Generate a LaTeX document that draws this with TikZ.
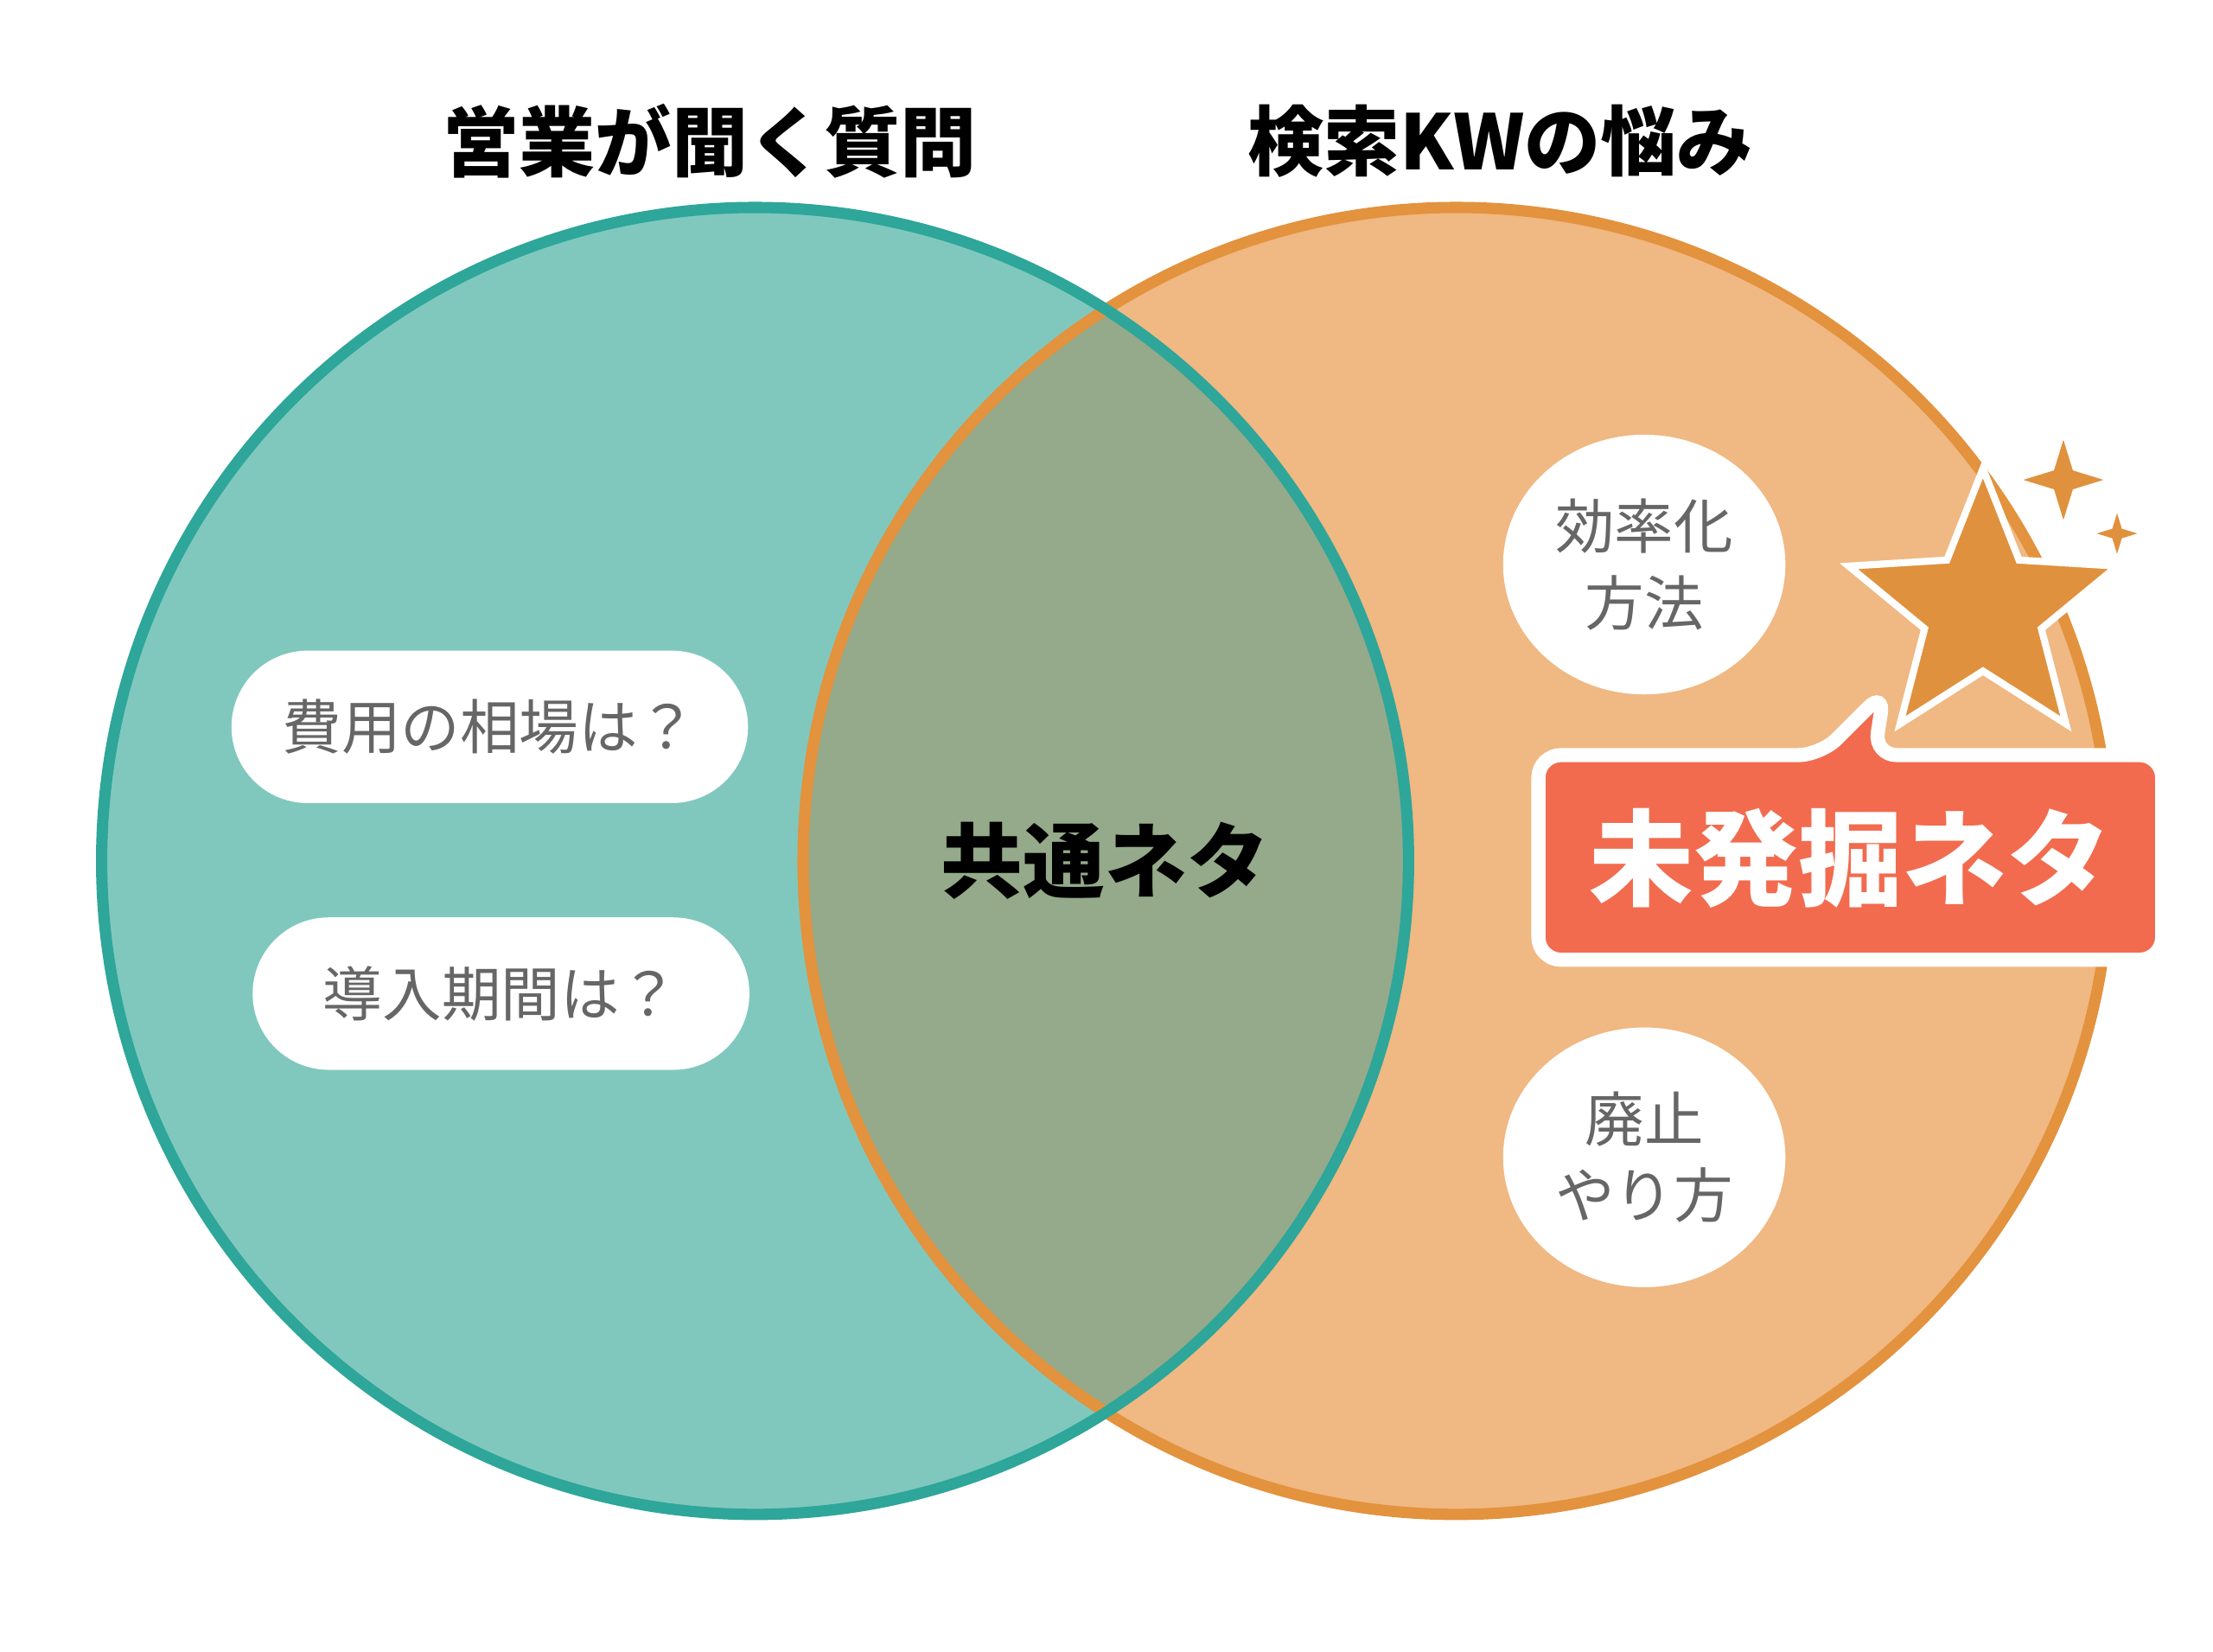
\documentclass[tikz,border=0pt]{standalone}
\usepackage{fontspec}
\setmainfont{Noto Sans CJK JP}
\usetikzlibrary{shapes.geometric}
\definecolor{tealline}{HTML}{2EA69A}
\definecolor{tealfill}{HTML}{80C8BE}
\definecolor{orline}{HTML}{E3923E}
\definecolor{orfill}{HTML}{F0B882}
\definecolor{overlap}{HTML}{94AA8A}
\definecolor{starcol}{HTML}{E0913D}
\definecolor{redbox}{HTML}{F26B4E}
\definecolor{txtgray}{HTML}{666666}
\tikzset{
  pill/.style={draw=none,fill=white,rounded corners=27pt,minimum height=54pt,font=\fontsize{21}{24}\selectfont,text=txtgray},
  blob/.style={ellipse,fill=white,minimum width=100pt,minimum height=92pt,inner sep=0pt,align=center,font=\fontsize{21}{27}\selectfont,text=txtgray},
  title/.style={font=\bfseries\fontsize{27}{30}\selectfont}
}
\begin{document}
\begin{tikzpicture}[x=0.5pt,y=-0.5pt]
\useasboundingbox (0,0) rectangle (1568,1170);
%circles
\fill[tealfill] (535,610) circle (463);
\fill[orfill] (1032,610) circle (463);
\begin{scope}
  \clip (535,610) circle (463);
  \fill[overlap] (1032,610) circle (463);
\end{scope}
\draw[orline,line width=4pt] (1032,610) circle (463);
\draw[tealline,line width=4pt] (535,610) circle (463);
\begin{scope}
  \clip (570,0) rectangle (1000,1170);
  \clip (535,610) circle (459);
  \draw[orline,line width=4pt] (1032,610) circle (463);
\end{scope}
%titles
\node[title] (ttlL) at (503,100) {営業が聞く質問};
\node[title] (ttlR) at (1063,100) {検索KWの悩み};
\node[title,font=\bfseries\fontsize{29}{32}\selectfont] (common) at (783,610) {共通ネタ};
%left pills
\node[pill,minimum width=183pt] (cost) at (347,515) {費用の相場は？};
\node[pill,minimum width=176pt] (period) at (355,704) {導入期間は？};
%right blobs
\node[blob] (eff) at (1165,400) {効率化\\方法};
\node[blob] (abol) at (1165,820) {廃止\\やり方};
%callout
\draw[white,line width=5pt,fill=redbox,rounded corners=8pt] (1090,680) -- (1090,535) -- (1290,535) -- (1335,490) -- (1328,535) -- (1532,535) -- (1532,680) -- cycle;
\node[text=white,font=\bfseries\fontsize{37}{40}\selectfont] (unmined) at (1311,608) {未発掘ネタ};
%star
\node[star,star points=5,star point ratio=2.3,minimum size=100pt,fill=starcol,draw=white,line width=2.5pt,inner sep=0pt] (bigstar) at (1405,432) {};
\foreach \p/\s in {{(1462,340)/32pt},{(1500,378)/18pt}}
  \node[star,star points=4,star point ratio=3,minimum size=\s,fill=starcol,draw=white,line width=1pt,inner sep=0pt] at \p {};
\end{tikzpicture}
\end{document}
